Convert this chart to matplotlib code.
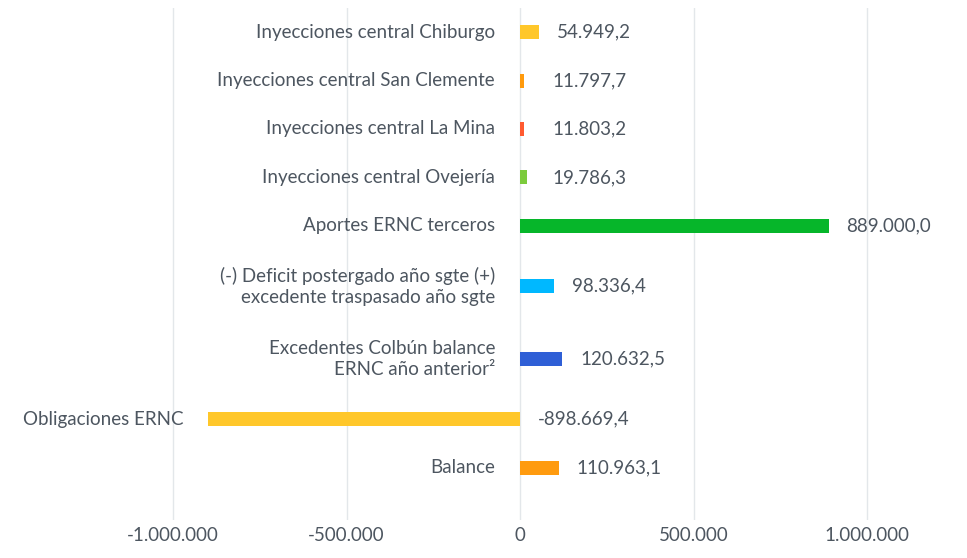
import numpy as np
import matplotlib.pyplot as plt

# Data
categories = [
    "Inyecciones central Chiburgo",
    "Inyecciones central San Clemente",
    "Inyecciones central La Mina",
    "Inyecciones central Ovejería",
    "Aportes ERNC terceros",
    "(-) Deficit postergado año sgte (+)\nexcedente traspasado año sgte",
    "Excedentes Colbún balance\nERNC año anterior²",
    "Obligaciones ERNC",
    "Balance",
]
values = [54949.2, 11797.7, 11803.2, 19786.3, 889000.0, 98336.4, 120632.5, -898669.4, 110963.1]
value_labels = ["54.949,2", "11.797,7", "11.803,2", "19.786,3", "889.000,0",
                "98.336,4", "120.632,5", "-898.669,4", "110.963,1"]
colors = ["#FFC72A", "#FF9A0D", "#FF5A30", "#7CCB3C", "#06B62A",
          "#00B8FF", "#2F5FD6", "#FFC72A", "#FF9B0F"]
ticks = [-1000000, -500000, 0, 500000, 1000000]
tick_labels = ["-1.000.000", "-500.000", "0", "500.000", "1.000.000"]

text_color = "#4d5660"
fs = 13.5
plt.rcParams['font.family'] = ['Lato', 'DejaVu Sans']

# row positions: two-line labels take more room
heights = np.array([1.0 + 0.5 * c.count("\n") for c in categories])
pos = np.cumsum(heights) - heights / 2 - heights[0] / 2

fig = plt.figure(figsize=(9.67, 5.58), dpi=100)
ax = fig.add_axes([0, 38 / 558, 1, 512 / 558])
ax.barh(pos, values, height=0.29, color=colors, zorder=3)

ax.set_xlim(-1.4986e6, 1.288e6)
ax.set_ylim(10.08, -0.5)
ax.set_xticks(ticks)
ax.set_xticklabels(tick_labels, color=text_color, fontsize=fs)
ax.set_yticks([])
ax.tick_params(axis="x", length=0, pad=5)
ax.grid(axis="x", color="#e3e7ea", linewidth=1, zorder=0)
for s in ax.spines.values():
    s.set_visible(False)

for p, v, cat, lab in zip(pos, values, categories, value_labels):
    ax.annotate(cat, (min(v, 0), p), xytext=(-18, 0), textcoords="offset points",
                ha="right", va="center", color=text_color, fontsize=fs,
                multialignment="right", linespacing=1.25)
    anchor = max(v, 40000) if v > 0 else 0
    ax.annotate(lab, (anchor, p), xytext=(13, 0), textcoords="offset points",
                ha="left", va="center", color=text_color, fontsize=fs)

fig.savefig("out.png", dpi=100)
